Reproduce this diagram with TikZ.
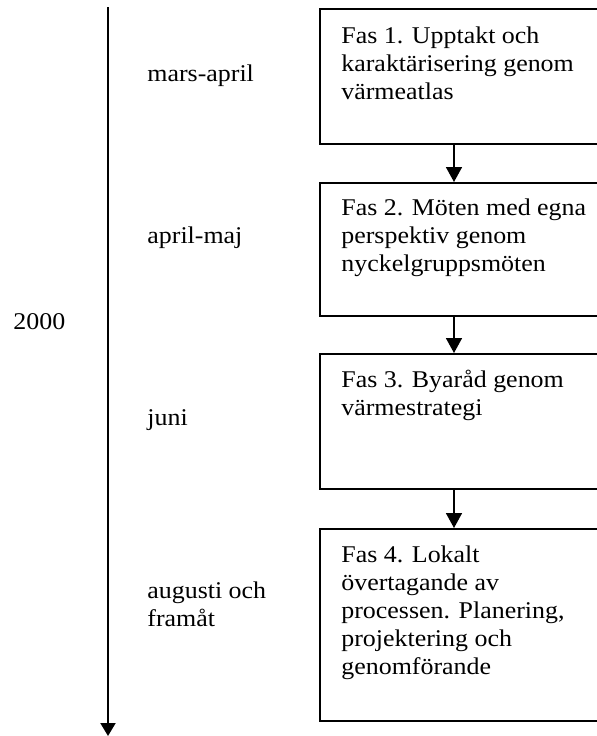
\documentclass[tikz,border=0pt]{standalone}
\usepackage{fontspec}
\setmainfont{Liberation Serif}[FakeStretch=1.08]
\usetikzlibrary{arrows.meta}
\begin{document}
\begin{tikzpicture}[x=0.5pt,y=-0.5pt,
  box/.style={draw=black,line width=1pt,rectangle,inner sep=0pt,anchor=north west,minimum width=170pt},
  boxtext/.style={anchor=base west,inner sep=0pt,align=left,font=\fontsize{12pt}{14.1pt}\selectfont},
  lbl/.style={anchor=base west,inner sep=0pt,align=left,font=\fontsize{12pt}{14pt}\selectfont},
  conn/.style={line width=0.8pt,-{Triangle[width=8pt,length=7.5pt]}},
  tline/.style={line width=1pt,-{Triangle[width=7.5pt,length=6.5pt]}}]
\useasboundingbox (0,0) rectangle (597,736);
\clip (0,0) rectangle (597,736);
% timeline
\coordinate (ttop) at (108,7);
\coordinate (tbot) at (108,736);
\draw[tline] (ttop) -- (tbot);
% boxes
\node[box,minimum height=67.5pt] (b1) at (319,8) {};
\node[box,minimum height=66.5pt] (b2) at (319,182) {};
\node[box,minimum height=67.5pt] (b3) at (319,353) {};
\node[box,minimum height=96pt] (b4) at (319,528) {};
\draw[conn] (b1.south -| 454,0) -- (b2.north -| 454,0);
\draw[conn] (b2.south -| 454,0) -- (b3.north -| 454,0);
\draw[conn] (b3.south -| 454,0) -- (b4.north -| 454,0);
% box texts (anchor = baseline of last line)
\node[boxtext] (t1) at (341,99.4) {Fas 1. Upptakt och\\karaktärisering genom\\värmeatlas};
\node[boxtext] (t2) at (341,271.4) {Fas 2. Möten med egna\\perspektiv genom\\nyckelgruppsmöten};
\node[boxtext] (t3) at (341,415.2) {Fas 3. Byaråd genom\\värmestrategi};
\node[boxtext] (t4) at (341,674.8) {Fas 4. Lokalt\\övertagande av\\processen. Planering,\\projektering och\\genomförande};
% left labels
\node[lbl] (l1) at (147,81) {mars-april};
\node[lbl] (l2) at (147,243) {april-maj};
\node[lbl] (l3) at (147,425) {juni};
\node[lbl] (l4) at (147,626) {augusti och\\framåt};
\node[lbl] (y) at (13,329) {2000};
\end{tikzpicture}
\end{document}
